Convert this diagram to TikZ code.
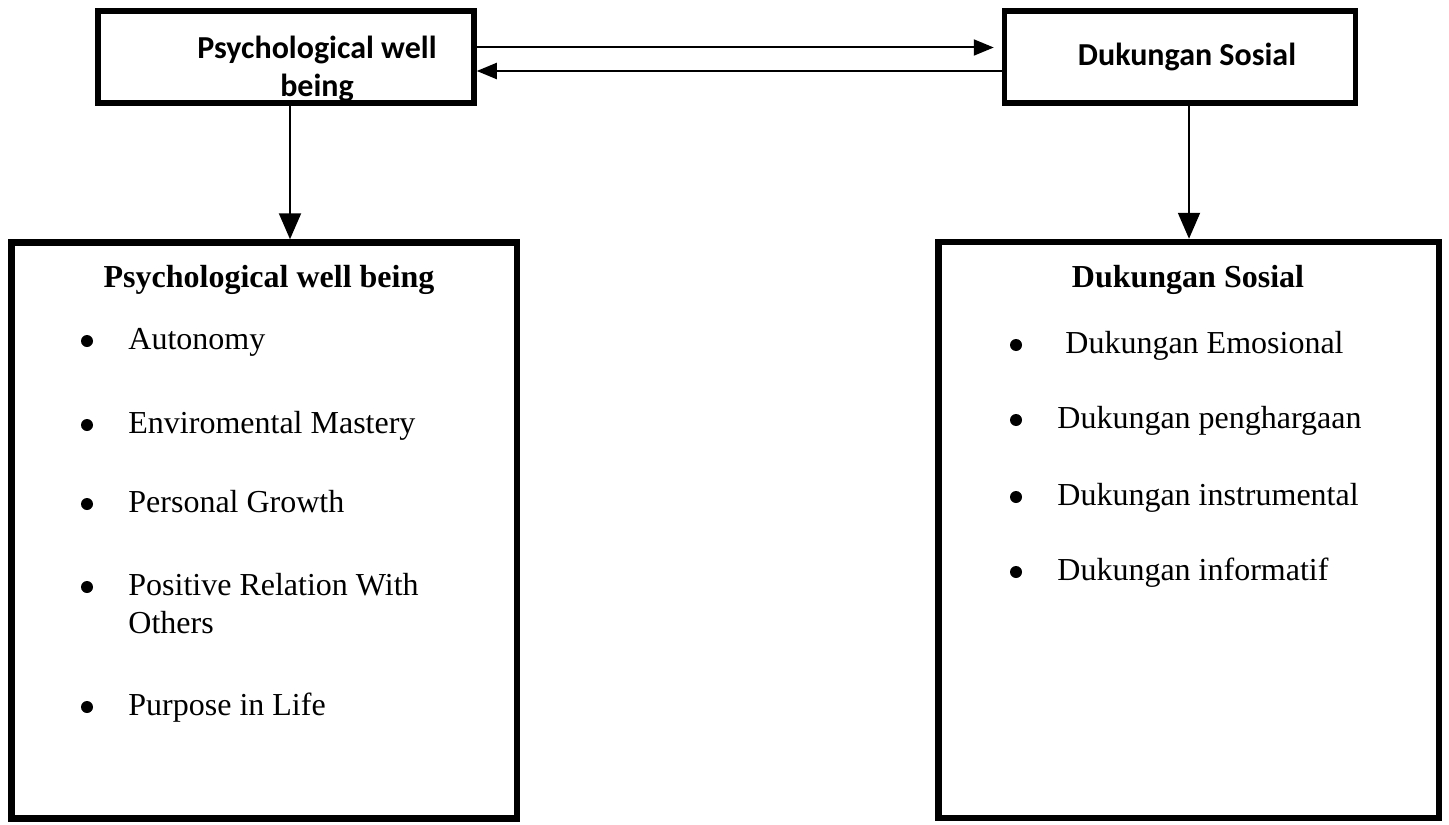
\documentclass[tikz,border=0pt]{standalone}
\usepackage{fontspec}
\setmainfont{Liberation Serif}
\newfontfamily\calibri{Carlito}
\usetikzlibrary{arrows.meta,positioning}
\tikzset{
  topbox/.style={draw, line width=2.75pt, minimum width=#1, minimum height=46pt, inner sep=0pt},
  listbox/.style={draw, line width=3.25pt, minimum width=#1, minimum height=288pt, inner sep=0pt},
  headtxt/.style={font=\calibri\bfseries\fontsize{16}{19}\selectfont, align=center, inner sep=0pt},
  titletxt/.style={font=\bfseries\fontsize{16}{19}\selectfont, anchor=base, inner sep=0pt},
  itemtxt/.style={font=\fontsize{16}{19}\selectfont, anchor=base west, inner sep=0pt},
  linkarrow/.style={line width=1pt, -{Triangle[length=10pt,width=8pt]}},
  downarrow/.style={line width=1pt, -{Triangle[length=13pt,width=11pt]}},
}
\begin{document}
\begin{tikzpicture}[x=0.5pt,y=-0.5pt]
        \useasboundingbox (0,0) rectangle (1449,824);
        % top row
        \node[topbox=188pt] (pwbTop) at (286,57) {};
        \node[headtxt] (pwbTopText) at (317,69) {Psychological well\\being};
        \node[topbox=175.5pt, headtxt] (dsTop) at (1180,57) {\hspace*{7pt}Dukungan Sosial};
        \draw[linkarrow] ([yshift=4.75pt]pwbTop.east) -- ([yshift=4.75pt,xshift=-4pt]dsTop.west);
        \draw[linkarrow] ([yshift=-7pt]dsTop.west) -- ([yshift=-7pt]pwbTop.east);
        % bottom row
        \node[listbox=252.75pt] (pwbBot) at (264,530.5) {};
        \node[listbox=250.25pt] (dsBot) at (1188.5,530) {};
        \coordinate (pwbDrop) at ([xshift=2pt]pwbTop.south);
        \coordinate (dsDrop) at ([xshift=4.5pt]dsTop.south);
        \draw[downarrow] (pwbDrop) -- (pwbDrop |- pwbBot.north);
        \draw[downarrow] (dsDrop) -- (dsDrop |- dsBot.north);
        \node[titletxt] (pwbTitle) at (269,287) {Psychological well being};
        \node[titletxt] (dsTitle) at (1188,287) {Dukungan Sosial};
        \foreach \yy/\txt [count=\i] in {349/Autonomy, 433/Enviromental Mastery, 512/Personal Growth, 595/{\vtop{\hbox{Positive Relation With}\hbox{Others}}}, 715/Purpose in Life}{
            \node[itemtxt] (pwbItem\i) at (128,\yy) {\txt};
            \fill ([xshift=-20.5pt,yshift=4pt]pwbItem\i.base west) circle (3pt);
        }
        \foreach \yy/\txt [count=\i] in {353/{\ Dukungan Emosional}, 428/Dukungan penghargaan, 505/Dukungan instrumental, 580/Dukungan informatif}{
            \node[itemtxt] (dsItem\i) at (1057,\yy) {\txt};
            \fill ([xshift=-20.5pt,yshift=4pt]dsItem\i.base west) circle (3pt);
        }
    \end{tikzpicture}
\end{document}
